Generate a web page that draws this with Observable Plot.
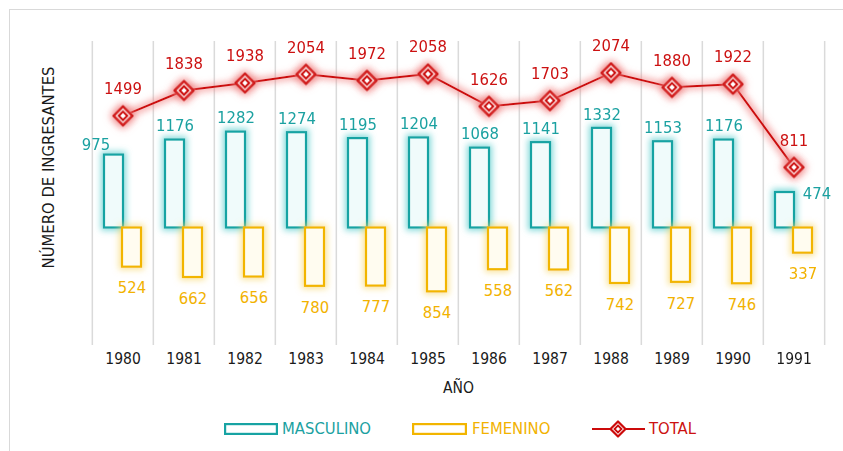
<!DOCTYPE html>
<html>
<head>
<meta charset="utf-8">
<script src="https://cdn.jsdelivr.net/npm/d3@7"></script>
<script src="https://cdn.jsdelivr.net/npm/@observablehq/plot@0.6"></script>
<style>
  html, body { margin: 0; padding: 0; background: #fff; overflow: hidden; }
  #wrap { position: relative; width: 843px; height: 451px; overflow: hidden; }
  #frame { position: absolute; left: 9px; top: 9px; width: 900px; height: 500px;
           border-top: 1.5px solid #d9d9d9; border-left: 1.5px solid #d9d9d9; }
  #chart { position: absolute; left: 0; top: 0; }
  .lg { position: absolute; font-family: "DejaVu Sans Condensed", "Liberation Sans", sans-serif;
        font-size: 16.5px; line-height: 20px; white-space: nowrap; }
  .ls { position: absolute; }
</style>
</head>
<body>
<div id="wrap">
  <div id="frame"></div>
  <div id="chart"></div>
</div>
<script>
const years = [1980, 1981, 1982, 1983, 1984, 1985, 1986, 1987, 1988, 1989, 1990, 1991];
const masculino = [975, 1176, 1282, 1274, 1195, 1204, 1068, 1141, 1332, 1153, 1176, 474];
const femenino = [524, 662, 656, 780, 777, 854, 558, 562, 742, 727, 746, 337];
const total = [1499, 1838, 1938, 2054, 1972, 2058, 1626, 1703, 2074, 1880, 1922, 811];
const seriesNames = ["MASCULINO", "FEMENINO", "TOTAL"];
const xTitle = "AÑO";
const yTitle = "NÚMERO DE INGRESANTES";

const rows = years.map((y, i) => ({year: String(y), masc: masculino[i], fem: femenino[i], total: total[i]}));

const FONT = '"DejaVu Sans Condensed", "Liberation Sans", sans-serif';
const TEAL = "#17a3a3", TEAL_T = "#1ba1a1";
const GOLD = "#f2b500", GOLD_T = "#f2b200";
const RED = "#cc0a0a", RED_T = "#cc1111";
const half = (843 - 90 - 17) / 12 / 2;
const LBL = 16.5, AX = 15.5;

const plot = Plot.plot({
  width: 843, height: 410,
  marginLeft: 90, marginRight: 17, marginTop: 41, marginBottom: 65,
  style: {fontFamily: FONT, fontSize: "16px", overflow: "visible", background: "transparent"},
  x: {domain: rows.map(d => d.year), paddingInner: 0.4, paddingOuter: 0.2, axis: null},
  y: {domain: [-1571, 2493], axis: null},
  marks: [
    Plot.ruleX(rows, {x: "year", dx: -half, stroke: "#dadada", strokeWidth: 1.5}),
    Plot.ruleX(rows.slice(-1), {x: "year", dx: half, stroke: "#dadada", strokeWidth: 1.5}),
    Plot.barY(rows, {x: "year", y: "masc", fill: "#f0fbfb", stroke: TEAL, strokeWidth: 2.2, insetRight: 18}),
    Plot.barY(rows, {x: "year", y: d => -d.fem, fill: "#fffcf0", stroke: GOLD, strokeWidth: 2.2, insetLeft: 18}),
    Plot.line(rows, {x: "year", y: "total", stroke: RED, strokeWidth: 2}),
    Plot.dot(rows, {x: "year", y: "total", symbol: "diamond2", r: 8.5, stroke: RED, strokeWidth: 2.6, fill: "white", strokeLinejoin: "round"}),
    Plot.dot(rows, {x: "year", y: "total", symbol: "diamond2", r: 3.8, stroke: RED, strokeWidth: 2, fill: "white"}),
    // labels
    Plot.text(rows.filter(d => d.year !== "1980" && d.year !== "1991"), {x: "year", y: "masc", text: d => String(d.masc), dx: -9, dy: -14, fill: TEAL_T, fontSize: LBL}),
    Plot.text(rows.filter(d => d.year === "1980"), {x: "year", y: "masc", text: d => String(d.masc), dx: -27, dy: -10, fill: TEAL_T, fontSize: LBL}),
    Plot.text(rows.filter(d => d.year === "1991"), {x: "year", y: "masc", text: d => String(d.masc), dx: 23, dy: 1, fill: TEAL_T, fontSize: LBL}),
    Plot.text(rows, {x: "year", y: d => -d.fem, text: d => String(d.fem), dx: 9, dy: 21, fill: GOLD_T, fontSize: LBL}),
    Plot.text(rows, {x: "year", y: "total", text: d => String(d.total), dy: -27, fill: RED_T, fontSize: LBL}),
    // axis texts
    Plot.text(rows, {x: "year", text: "year", frameAnchor: "bottom", dy: 18, fill: "#1a1a1a", fontSize: AX}),
    Plot.text([xTitle], {text: d => d, frameAnchor: "bottom", dy: 47, fill: "#1a1a1a", fontSize: AX}),
    Plot.text([yTitle], {text: d => d, frameAnchor: "left", textAnchor: "middle", dx: -42, dy: -26, rotate: -90, fill: "#1a1a1a", fontSize: 16.5})
  ]
});

// glow filters
const ns = "http://www.w3.org/2000/svg";
const defs = document.createElementNS(ns, "defs");
function glow(id, color, op, dil, sd) {
  return `<filter id="${id}" filterUnits="userSpaceOnUse" x="0" y="0" width="843" height="410">
    <feMorphology in="SourceAlpha" operator="dilate" radius="${dil}" result="d"/>
    <feGaussianBlur in="d" stdDeviation="${sd}" result="b"/>
    <feFlood flood-color="${color}" flood-opacity="${op}"/>
    <feComposite in2="b" operator="in" result="g"/>
    <feMerge><feMergeNode in="g"/><feMergeNode in="SourceGraphic"/></feMerge>
  </filter>`;
}
defs.innerHTML = glow("gT", "#6fd4d4", 0.85, 1.5, 3) + glow("gG", "#f7d870", 0.7, 1.5, 3) + glow("gR", "#f07a7a", 0.65, 2, 3.5);
plot.insertBefore(defs, plot.firstChild);
const bars = plot.querySelectorAll('g[aria-label="bar"]');
if (bars[0]) bars[0].setAttribute("filter", "url(#gT)");
if (bars[1]) bars[1].setAttribute("filter", "url(#gG)");
plot.querySelectorAll('g[aria-label="line"], g[aria-label="dot"]').forEach(g => g.setAttribute("filter", "url(#gR)"));

document.getElementById("chart").appendChild(plot);

// legend
const wrap = document.getElementById("wrap");
function add(html) { const t = document.createElement("div"); t.innerHTML = html; wrap.appendChild(t.firstElementChild); }
add(`<svg class="ls" style="left:224px;top:423px" width="54" height="12"><rect x="1.1" y="1.1" width="51.8" height="9.8" fill="#fff" stroke="${TEAL}" stroke-width="2.2"/></svg>`);
add(`<div class="lg" style="left:282px;top:419px;color:${TEAL_T}">${seriesNames[0]}</div>`);
add(`<svg class="ls" style="left:412px;top:423px" width="55" height="12"><rect x="1.1" y="1.1" width="52.8" height="9.8" fill="#fff" stroke="${GOLD}" stroke-width="2.2"/></svg>`);
add(`<div class="lg" style="left:472px;top:419px;color:${GOLD_T}">${seriesNames[1]}</div>`);
add(`<svg class="ls" style="left:592px;top:419px" width="54" height="20"><line x1="0" y1="10" x2="53" y2="10" stroke="${RED}" stroke-width="2"/><path d="M26,2.5 L33.5,10 L26,17.5 L18.5,10 Z" fill="#fff" stroke="${RED}" stroke-width="2.2" stroke-linejoin="round"/><path d="M26,6.5 L29.5,10 L26,13.5 L22.5,10 Z" fill="#fff" stroke="${RED}" stroke-width="1.8"/></svg>`);
add(`<div class="lg" style="left:649px;top:419px;color:${RED_T}">${seriesNames[2]}</div>`);
</script>
</body>
</html>
